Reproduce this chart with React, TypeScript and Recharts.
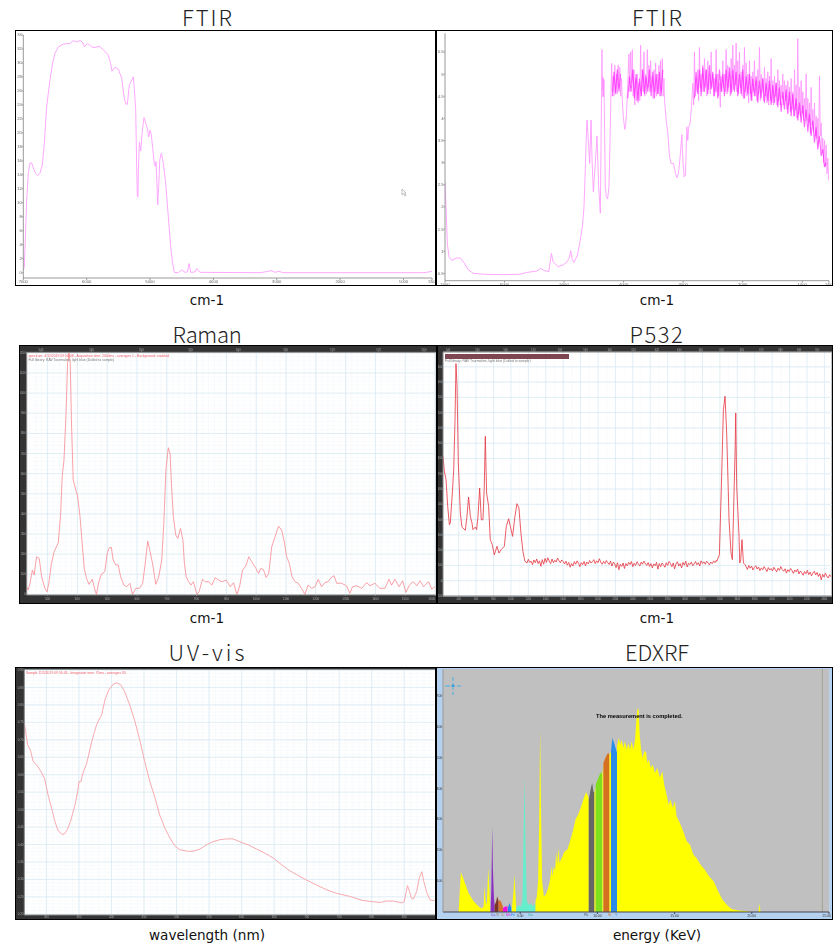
import { ComposedChart, LineChart, Line, Area, XAxis, YAxis, CartesianGrid, ReferenceLine } from 'recharts';
import type { ReactNode } from 'react';

type Pair = [number, number];

// top left FTIR, wavenumber / transmittance
const ftirA: Pair[] = [
  [7000, 0.3], [6984, 0.9], [6968, 4.7], [6947, 10.4], [6921, 14.2], [6895, 15.7], [6868, 15.7], [6842, 15], [6805, 14.2],
  [6774, 13.9], [6737, 14.2], [6700, 15.4], [6668, 18.5], [6632, 23.7], [6579, 27.6], [6537, 30], [6500, 31.4], [6447, 32.3],
  [6368, 32.7], [6263, 32.8], [6211, 33.2], [6158, 33], [6105, 33.2], [6068, 33], [6037, 32.3], [5984, 32.8], [5921, 32.3],
  [5868, 32.2], [5805, 32.4], [5737, 31.9], [5658, 31.1], [5621, 29.9], [5600, 28.8], [5553, 29.4], [5500, 29.1], [5447, 27.8],
  [5411, 25.2], [5379, 24.1], [5358, 24.1], [5326, 26.9], [5263, 28], [5247, 26.2], [5226, 23.3], [5211, 15.2], [5200, 10.9],
  [5189, 10.9], [5184, 14.7], [5168, 18.7], [5147, 17.4], [5121, 20.4], [5095, 22.2], [5068, 21.4], [5042, 20.6], [5021, 19.4],
  [5000, 20.4], [4979, 19.7], [4958, 17.8], [4932, 15.6], [4916, 15.2], [4905, 15.9], [4889, 12.3], [4879, 9.7], [4863, 12.3],
  [4847, 16.1], [4821, 17.1], [4789, 15.6], [4753, 12.8], [4711, 8], [4674, 3.7], [4642, 1.3], [4616, 0.05], [4553, 0],
  [4500, 0.4], [4447, 0.05], [4411, 0.1], [4384, 1.3], [4358, 0.05], [4289, 0.1], [4263, 0.6], [4211, 0.05], [3263, 0],
  [3158, 0.15], [3089, 0.3], [3026, 0.05], [2963, 0.2], [2905, 0], [684, 0], [605, 0.1], [550, 0.2],
];

// top right FTIR: smooth left part, then the two noisy stretches
const ftirBLow: Pair[] = [
  [7000, 2.57], [6983, 2], [6961, 1.18], [6933, 0.88], [6888, 0.79], [6804, 0.85], [6737, 0.84], [6676, 0.73], [6609, 0.58],
  [6525, 0.5], [6358, 0.48], [6022, 0.47], [5743, 0.48], [5631, 0.52], [5464, 0.55], [5397, 0.61], [5324, 0.56], [5257, 0.54],
  [5229, 0.8], [5212, 0.95], [5184, 0.76], [5100, 0.65], [5017, 0.69], [4950, 0.76], [4916, 0.84], [4888, 1.01], [4860, 0.8],
  [4832, 0.75], [4776, 0.91], [4737, 1.18], [4693, 1.55], [4665, 2], [4642, 2.91], [4625, 3.66], [4614, 3.96], [4586, 3.36],
  [4570, 2.98], [4547, 3.96], [4530, 3.06], [4508, 2.34], [4475, 2.98], [4447, 3.6], [4419, 2.46], [4391, 1.86], [4363, 5.55],
  [4358, 4.64], [4352, 4.94], [4347, 4.49], [4341, 4.9], [4336, 4.49], [4330, 4.87], [4319, 3.66], [4308, 2.46], [4291, 2.23],
  [4268, 2.18], [4246, 2.46], [4229, 3.44], [4212, 4.57], [4201, 5.24],
];
const ftirBNoise1 = [
  4.6, 4.95, 4.5, 5.2, 4.6, 5, 4.55, 5.2, 4.7, 5.15, 4.5, 4.9, 4.4, 4.1, 3.9, 3.75, 3.85, 4.1, 4.5, 5,
  5.45, 4.6, 5.5, 4.8, 5.55, 4.5, 5.1, 4.3, 4.9, 4.4, 5, 4.35, 4.8, 4.4, 5.65, 4.5, 5.1, 4.6, 5.5, 4.5,
  5, 4.55, 5.55, 4.7, 5.2, 4.6, 5.3, 4.7, 4.95, 4.45, 5.1, 4.6, 5.25, 4.5, 5, 4.55, 5.2, 4.5, 5.3, 4.6,
  5.35, 4.5, 4.9,
];
const ftirBValley: Pair[] = [
  [3313, 4.42], [3285, 3.96], [3257, 3.66], [3229, 3.14], [3201, 2.98], [3162, 2.98], [3128, 2.76], [3106, 2.66], [3078, 2.76],
  [3050, 3.14], [3022, 3.63], [3005, 3.06], [2983, 2.68], [2961, 2.72], [2938, 3.81], [2922, 3.5], [2905, 3.81], [2883, 3.89],
  [2860, 4.27], [2838, 4.79],
];
const ftirBNoise2 = [
  4.3, 5.5, 4.5, 4.9, 4.6, 5.1, 4.4, 5.6, 4.7, 5, 4.6, 5.2, 4.6, 5.35, 4.7, 5.1, 4.5, 5.3, 4.65, 5,
  4.55, 5.5, 4.7, 5, 4.5, 4.9, 4.6, 5.55, 4.6, 5, 4.5, 4.8, 4.25, 4.95, 4.6, 5.3, 4.7, 5, 4.6, 5.55,
  4.55, 5.2, 4.7, 5.05, 4.5, 5.35, 4.6, 5.65, 4.65, 5.2, 4.75, 5.7, 4.6, 5.3, 4.55, 5.5, 4.7, 5.05, 4.5, 5.2,
  4.45, 5.6, 4.6, 5.25, 4.5, 5, 4.35, 5.3, 4.55, 4.95, 4.4, 5.05, 4.6, 5.3, 4.5, 4.85, 4.4, 5.1, 4.55, 5.6,
  4.4, 5, 4.6, 4.9, 4.4, 5.15, 4.5, 4.9, 4.35, 5.05, 4.3, 4.95, 4.4, 5.35, 4.35, 4.85, 4.3, 4.95, 4.5, 4.8,
  4.3, 5.1, 4.4, 4.85, 4.3, 4.75, 4.45, 5, 4.3, 4.85, 4.4, 4.75, 4.2, 4.85, 4.3, 4.7, 4.15, 4.9, 4.2, 4.6,
  4.05, 5.1, 4.2, 4.75, 4, 5.8, 4.1, 4.7, 4.05, 4.85, 4.1, 4.6, 3.95, 4.45, 4.05, 5, 3.95, 4.45, 3.9, 4.35,
  3.65, 4.7, 3.85, 4.2, 3.7, 4.35, 3.6, 4.05, 3.55, 4, 3.45, 4.95, 3.6, 3.9, 3.25, 3.55, 3, 3.5, 2.9, 3.4,
  2.75, 3.1, 2.6,
];
// the saturated magenta band running through the noise
const ftirBCore1a = [4.5, 5.05, 4.55, 5.1, 4.6, 5];
const ftirBCore1b = [4.45, 4.95, 4.6, 5.1, 4.45, 5, 4.4, 4.9, 4.5, 5.1, 4.55, 4.95, 4.6, 5.1, 4.5, 5.05, 4.45, 5, 4.55, 5.05, 4.5, 5.1];
const ftirBCore2 = [
  4.45, 5.05, 4.55, 5.1, 4.5, 5.15, 4.6, 5.1, 4.55, 5.2, 4.65, 5.05, 4.5, 5, 4.45, 5.1, 4.6, 5, 4.5, 5.1,
  4.6, 5.15, 4.55, 5.1, 4.6, 5.05, 4.5, 5, 4.55, 5.1, 4.45, 4.95, 4.55, 5, 4.4, 4.9, 4.5, 4.95, 4.35, 4.85,
  4.45, 4.9, 4.35, 4.8, 4.4, 4.85, 4.3, 4.75, 4.35, 4.8, 4.25, 4.7, 4.15, 4.6, 4.2, 4.65, 4.1, 4.6, 4.05, 4.55,
  4.05, 4.45, 3.95, 4.35, 3.9, 4.3, 3.8, 4.2, 3.7, 4.1, 3.6, 3.95, 3.45, 3.8, 3.3, 3.6, 3.15, 3.3, 2.9, 3,
];
const ftirXTicks = [7000, 6000, 5000, 4000, 3000, 2000, 1000, 550];

// Raman, shift / counts
const raman: Pair[] = [
  [230, 38], [235, 22], [241, 55], [249, 121], [255, 96], [263, 187], [272, 179], [280, 88], [291, 30], [298, 13], [304, 55],
  [313, 154], [322, 212], [336, 257], [344, 402], [349, 585], [355, 667], [362, 899], [367, 1148], [372, 1200], [376, 1148],
  [380, 866], [386, 568], [392, 535], [401, 485], [409, 386], [417, 237], [423, 129], [431, 79], [439, 50], [450, 75], [459, 22],
  [464, 0], [472, 63], [481, 101], [492, 113], [500, 204], [507, 232], [514, 233], [520, 171], [529, 146], [537, 146], [545, 88],
  [556, 46], [565, 38], [576, 55], [585, 0], [596, 30], [608, 30], [619, 55], [627, 146], [636, 265], [644, 212], [653, 146],
  [663, 50], [673, 88], [683, 171], [690, 353], [697, 618], [705, 729], [711, 700], [716, 535], [722, 386], [730, 295], [737, 278],
  [746, 328], [754, 270], [759, 154], [765, 88], [773, 63], [781, 46], [789, 63], [801, 0], [808, 13], [820, 75], [829, 63],
  [840, 63], [851, 46], [862, 83], [873, 71], [885, 63], [899, 71], [913, 38], [924, 58], [935, 0], [944, 38], [954, 121],
  [965, 141], [975, 187], [985, 162], [999, 129], [1008, 104], [1015, 129], [1024, 124], [1033, 84], [1042, 104], [1052, 237],
  [1063, 286], [1075, 339], [1085, 320], [1094, 262], [1102, 187], [1111, 154], [1120, 88], [1130, 63], [1141, 55], [1152, 30],
  [1163, 0], [1174, 46], [1186, 30], [1197, 38], [1208, 75], [1219, 38], [1230, 58], [1241, 63], [1249, 80], [1261, 93],
  [1270, 55], [1286, 55], [1303, 43], [1314, 5], [1323, 38], [1337, 43], [1354, 30], [1370, 58], [1382, 43], [1398, 55],
  [1415, 30], [1432, 30], [1445, 75], [1454, 46], [1465, 75], [1479, 38], [1491, 68], [1502, 10], [1514, 46], [1527, 63],
  [1539, 43], [1550, 68], [1561, 38], [1578, 63], [1589, 26], [1599, 38],
];
const ramanTopTicks = [278, 448, 615, 780, 940, 1099, 1256, 1411, 1563];
const ramanTopLabels = ['540', '545', '550', '555', '560', '565', '570', '575', '580'];

// P532
const p532Head: Pair[] = [
  [220, 814], [236, 716], [255, 661], [274, 487], [293, 367], [304, 378], [327, 574], [343, 727], [358, 1054], [369, 1421],
  [381, 1273], [396, 771], [419, 443], [438, 351], [476, 330], [495, 421], [514, 548], [534, 421], [553, 378], [564, 334],
  [591, 351], [606, 334], [622, 421], [641, 607], [660, 399], [679, 399], [694, 618], [706, 945], [721, 574], [744, 487],
  [763, 269], [786, 236], [809, 170], [840, 225], [863, 181], [886, 203], [924, 225], [947, 356], [974, 406], [993, 356],
  [1019, 290], [1046, 421], [1069, 504], [1092, 476], [1115, 312], [1138, 192], [1161, 127],
];
const p532Noise1 = [
  116, 140, 120, 128, 105, 136, 118, 142, 112, 130, 95, 138, 108, 146, 120, 150, 128, 112, 142, 118,
  134, 122, 148, 130, 118, 136, 125, 110, 128, 102, 120, 88, 112, 96, 125, 108, 130, 115, 92, 118,
  105, 126, 98, 122, 110, 132, 116, 124, 138, 112, 130, 118, 144, 120, 108, 126, 112, 132, 118, 106,
  128, 96, 122, 110, 86, 118, 72, 108, 94, 116, 80, 112, 98, 120, 106, 126, 92, 114, 100, 124,
  110, 96, 122, 108, 128, 112, 100, 118, 94, 112, 84, 110, 98, 120, 76, 112, 92, 116, 104, 88,
  118, 100, 126, 112, 92, 116, 78, 110, 124, 96, 112, 84, 120, 102, 128, 90, 114, 106, 122, 98,
  110, 126, 104, 118, 96, 130, 112, 124, 108, 128, 116, 104, 122, 112, 130, 118, 134,
];
const p532Peaks: Pair[] = [
  [3364, 127], [3394, 170], [3417, 618], [3440, 1120], [3459, 1207], [3478, 967], [3505, 399], [3528, 181], [3543, 138],
  [3574, 836], [3582, 1098], [3593, 618], [3620, 290], [3628, 116], [3639, 138], [3654, 269], [3670, 116], [3689, 105],
];
const p532Noise2 = [
  92, 74, 100, 82, 96, 70, 88, 98, 76, 90, 66, 84, 72, 92, 78, 60, 86, 70, 80, 64,
  88, 72, 58, 82, 68, 92, 74, 62, 78, 50, 72, 60, 80, 66, 48, 70, 58, 76, 44, 64,
  52, 36, 60, 46, 68, 40, 56, 32, 50, 62, 38, 54, 28, 46, 6, 42, 24, 50, 30, 18,
  40, 26,
];
const p532TopTicks = [278, 615, 940, 1256, 1563, 1856, 2136, 2410, 2676, 2933, 3181, 3421, 3653, 3878, 4097, 4310, 4516];
const p532TopLabels = ['540', '550', '560', '570', '580', '590', '600', '610', '620', '630', '640', '650', '660', '670', '680', '690', '700'];

// UV-vis, wavelength / absorbance
const uvVis: Pair[] = [
  [266, 0.748], [268, 0.724], [271, 0.686], [276, 0.667], [279.5, 0.638], [285, 0.628], [291, 0.611], [297, 0.59], [302.5, 0.542],
  [308, 0.504], [313, 0.466], [318, 0.44], [323, 0.43], [327, 0.429], [332, 0.442], [337, 0.466], [344, 0.514], [348, 0.552],
  [350, 0.58], [353, 0.58], [356, 0.604], [362, 0.633], [369, 0.69], [377, 0.743], [385, 0.772], [390, 0.815], [396, 0.843],
  [403, 0.86], [408, 0.863], [414, 0.858], [420, 0.839], [428, 0.8], [436, 0.753], [444, 0.695], [451, 0.638], [459, 0.58],
  [467, 0.533], [474, 0.485], [482, 0.447], [490, 0.418], [497, 0.397], [505, 0.385], [513, 0.382], [520, 0.38], [528, 0.382],
  [536, 0.387], [546, 0.399], [556, 0.408], [567, 0.414], [577, 0.416], [587, 0.416], [597, 0.408], [610, 0.399], [623, 0.387],
  [636, 0.375], [649, 0.361], [662, 0.341], [674, 0.325], [687, 0.311], [700, 0.298], [715, 0.284], [731, 0.27], [746, 0.26],
  [767, 0.251], [785, 0.24], [797, 0.237], [813, 0.234], [823, 0.238], [833, 0.238], [846, 0.233], [850, 0.236], [853, 0.265],
  [855, 0.282], [858, 0.265], [861, 0.246], [864, 0.244], [869, 0.265], [873, 0.303], [877, 0.322], [880, 0.294], [885, 0.26],
  [890, 0.241], [895, 0.239], [897, 0.241],
];

// EDXRF segments, energy / counts
const xrfLow: Pair[] = [[1.01, 0], [1.16, 129], [1.34, 105], [1.66, 61], [1.98, 35], [2.31, 18], [2.52, 11], [2.63, 18], [2.69, 83], [2.76, 35], [2.84, 24], [2.93, 142], [3, 78], [3.06, 0]];
const xrfViolet: Pair[] = [[3.08, 0], [3.13, 78], [3.19, 277], [3.23, 142], [3.3, 45], [3.34, 24]];
const xrfBrown: Pair[] = [[3.34, 22], [3.45, 35], [3.51, 51], [3.6, 35]];
const xrfOrangeLow: Pair[] = [[3.6, 40], [3.75, 35], [3.88, 18]];
const xrfMagenta: Pair[] = [[3.88, 13], [4.03, 18], [4.18, 18]];
const xrfBlueLow: Pair[] = [[4.2, 13], [4.31, 29], [4.42, 13]];
const xrfSpike: Pair[] = [[4.46, 8], [4.57, 67], [4.63, 121], [4.7, 45], [4.74, 8]];
const xrfCyan: Pair[] = [[4.74, 13], [4.89, 22], [5.04, 18], [5.15, 40], [5.22, 250], [5.28, 439], [5.34, 229], [5.43, 35], [5.56, 22], [5.69, 29], [5.82, 18], [5.99, 29]];
const xrfRise: Pair[] = [
  [5.99, 35], [6.08, 51], [6.16, 99], [6.23, 293], [6.29, 590], [6.36, 293], [6.42, 99], [6.53, 51], [6.66, 56], [6.81, 78],
  [6.94, 105], [7.03, 148], [7.09, 115], [7.18, 148], [7.26, 132], [7.33, 196], [7.39, 153], [7.48, 207], [7.54, 159], [7.69, 175],
  [7.87, 196], [8.06, 202], [8.23, 229], [8.41, 261], [8.58, 299], [8.75, 315], [8.92, 337], [9.09, 364], [9.27, 388], [9.44, 369],
];
const xrfGray: Pair[] = [[9.44, 364], [9.57, 399], [9.66, 417], [9.74, 390], [9.81, 385]];
const xrfGap1: Pair[] = [[9.81, 385], [9.89, 407]];
const xrfGreen: Pair[] = [[9.89, 412], [10.06, 434], [10.22, 453], [10.32, 444]];
const xrfGap2: Pair[] = [[10.32, 444], [10.39, 480]];
const xrfOrange: Pair[] = [[10.39, 482], [10.54, 501], [10.69, 515], [10.78, 509]];
const xrfGap3: Pair[] = [[10.78, 509], [10.88, 520]];
const xrfBlue: Pair[] = [[10.88, 520], [10.97, 563], [11.08, 547], [11.16, 533], [11.27, 515]];
const xrfFall: Pair[] = [
  [11.27, 536], [11.38, 563], [11.49, 542], [11.57, 558], [11.68, 531], [11.79, 552], [11.9, 525], [12, 547], [12.11, 525],
  [12.22, 552], [12.33, 525], [12.44, 558], [12.52, 617], [12.59, 658], [12.67, 655], [12.74, 574], [12.82, 531], [12.91, 498],
  [13.04, 520], [13.15, 518], [13.23, 482], [13.34, 493], [13.45, 466], [13.58, 477], [13.73, 450], [13.88, 466], [14.05, 434],
  [14.2, 455], [14.33, 412], [14.48, 380], [14.61, 347], [14.74, 364], [14.87, 337], [15.02, 358], [15.13, 310], [15.34, 288],
  [15.56, 261], [15.78, 229], [15.99, 218], [16.21, 186], [16.42, 175], [16.68, 153], [16.96, 137], [17.24, 115], [17.54, 99],
  [17.82, 67], [18.1, 40], [18.41, 22], [18.69, 10], [19.12, 5], [19.55, 3], [19.98, 0],
];
const xrfTail: Pair[] = [[20.43, 0], [20.5, 28], [20.56, 0]];
const xrfElements = ['Ca', 'Ti', 'Cr', 'Mn', 'Fe', 'Ga', 'Pb', 'Sr', 'Y'];

const toRows = (pairs: Pair[]) => pairs.map(([x, y]) => ({ x, y }));
// spectrometer samples on a regular wavenumber grid in the noisy parts
const sampled = (start: number, step: number, values: number[]): Pair[] => values.map((y, i) => [start + i * step, y]);
const steps = (from: number, to: number, step: number) => {
  const out: number[] = [];
  for (let v = from; v <= to + 1e-9; v += step) out.push(v);
  return out;
};

const ftirBRows = toRows([...ftirBLow, ...sampled(4190, -14, ftirBNoise1), ...ftirBValley, ...sampled(2824, -14, ftirBNoise2)].sort((a, b) => b[0] - a[0]));
const ftirBCores = [
  toRows(sampled(4190, -28, ftirBCore1a)),
  toRows(sampled(3930, -28, ftirBCore1b)),
  toRows(sampled(2810, -28, ftirBCore2)),
];
const p532Rows = toRows([...p532Head, ...sampled(1184, 16, p532Noise1), ...p532Peaks, ...sampled(3700, 16, p532Noise2)]);

const xrfParts: { data: Pair[]; color: string }[] = [
  { data: xrfLow, color: '#ffff00' },
  { data: xrfViolet, color: '#8a2fc0' },
  { data: xrfBrown, color: '#7a3528' },
  { data: xrfOrangeLow, color: '#d9702a' },
  { data: xrfMagenta, color: '#f010e0' },
  { data: xrfBlueLow, color: '#2288ee' },
  { data: xrfSpike, color: '#ffff00' },
  { data: xrfCyan, color: '#66eecc' },
  { data: xrfRise, color: '#ffff00' },
  { data: xrfGray, color: '#666666' },
  { data: xrfGap1, color: '#ffff00' },
  { data: xrfGreen, color: '#7fdf1f' },
  { data: xrfGap2, color: '#ffff00' },
  { data: xrfOrange, color: '#d5701f' },
  { data: xrfGap3, color: '#ffff00' },
  { data: xrfBlue, color: '#2a8ce8' },
  { data: xrfFall, color: '#ffff00' },
  { data: xrfTail, color: '#ffff00' },
];

const FONT = '"Liberation Sans", sans-serif';
const major = '#d6e8f2';
const minor = '#f2f7fb';

// bottom tick that stays inside the frame at the right hand edge
const edgeTick = (w: number, style: any, format: (v: number) => string = String) => (p: any) => {
  const atEdge = p.x > w - 8;
  return (
    <text x={atEdge ? w - 2 : p.x} y={p.y + style.fontSize} textAnchor={atEdge ? 'end' : 'middle'} {...style}>
      {format(p.payload.value)}
    </text>
  );
};

function Title({ x, y, spacing, children }: { x: number; y: number; spacing: number; children: ReactNode }) {
  return (
    <div
      style={{
        position: 'absolute',
        left: x - 100,
        top: y - 16.5,
        width: 200,
        height: 30,
        lineHeight: '30px',
        textAlign: 'center',
        color: '#222',
        fontFamily: '"Noto Sans CJK KR", "Noto Sans", sans-serif',
        fontWeight: 300,
        fontSize: 22,
        letterSpacing: spacing,
      }}
    >
      {children}
    </div>
  );
}

function Caption({ x, y, children }: { x: number; y: number; children: ReactNode }) {
  return (
    <div
      style={{
        position: 'absolute',
        left: x - 100,
        top: y - 15,
        width: 200,
        height: 30,
        lineHeight: '30px',
        textAlign: 'center',
        color: '#111',
        fontFamily: '"DejaVu Sans", sans-serif',
        fontSize: 13.6,
      }}
    >
      {children}
    </div>
  );
}

function Frame({ x, y, w, h, bg, children }: { x: number; y: number; w: number; h: number; bg: string; children: ReactNode }) {
  return (
    <div style={{ position: 'absolute', left: x, top: y, width: w, height: h, background: bg, overflow: 'hidden' }}>
      <div style={{ position: 'absolute', inset: 0, filter: 'blur(0.3px)' }}>{children}</div>
      <div style={{ position: 'absolute', inset: 0, boxSizing: 'border-box', border: '1.5px solid #000', pointerEvents: 'none' }} />
    </div>
  );
}

function Tiny({ x, y, color, children, bold, size }: { x: number; y: number; color: string; children: ReactNode; bold?: boolean; size?: number }) {
  return (
    <div style={{ position: 'absolute', left: x, top: y, color, fontFamily: FONT, fontSize: size ?? 3.4, lineHeight: 1, whiteSpace: 'nowrap', fontWeight: bold ? 700 : 400 }}>
      {children}
    </div>
  );
}

function FtirChart({ w, h, rows, margin, yDomain, yTicks, stroke, strokeWidth, cores = [] }: any) {
  const tick = { fontSize: 4.2, fill: '#666', fontFamily: FONT };
  return (
    <LineChart width={w} height={h} data={rows} margin={margin}>
      <XAxis dataKey="x" type="number" reversed domain={[550, 7000]} ticks={ftirXTicks} interval={0} height={1} tick={tick} tickSize={2} tickMargin={0} stroke="#999" allowDataOverflow />
      <YAxis type="number" domain={yDomain} ticks={yTicks} interval={0} width={1} tick={tick} tickSize={1.5} tickMargin={0} stroke="#999" allowDataOverflow />
      <Line dataKey="y" type="linear" dot={false} stroke={stroke} strokeWidth={strokeWidth} isAnimationActive={false} />
      {cores.map((core: any, i: number) => (
        <Line key={i} data={core} dataKey="y" type="linear" dot={false} stroke="#ff00ff" strokeWidth={1.1} strokeOpacity={0.6} isAnimationActive={false} />
      ))}
    </LineChart>
  );
}

function RamanChart({ w, h, rows, margin, xDomain, xTicks, yDomain, yTicks, topTicks, topLabels, stroke, xMinor, yMinor, xMajor, tickSize }: any) {
  const tick = { fontSize: tickSize, fill: '#aaa', fontFamily: FONT };
  return (
    <LineChart width={w} height={h} data={rows} margin={margin}>
      <CartesianGrid fill="#fff" stroke={minor} strokeWidth={0.5} verticalValues={xMinor} horizontalValues={yMinor} />
      <CartesianGrid stroke={major} strokeWidth={0.7} verticalValues={xMajor} horizontalValues={yTicks} />
      <XAxis dataKey="x" type="number" domain={xDomain} ticks={xTicks} interval={0} height={1} tick={edgeTick(w, tick)} tickSize={1} tickMargin={0.5} stroke="#888" allowDataOverflow />
      <XAxis xAxisId="top" dataKey="x" orientation="top" type="number" domain={xDomain} ticks={topTicks} interval={0} height={1} tick={tick} tickSize={1} tickMargin={0.5} stroke="#888" tickFormatter={(_: number, i: number) => topLabels[i]} allowDataOverflow />
      <YAxis type="number" domain={yDomain} ticks={yTicks} interval={0} width={1} tick={tick} tickSize={0.5} tickMargin={0.3} stroke="#888" allowDataOverflow />
      <Line dataKey="y" type="linear" dot={false} stroke={stroke} strokeWidth={0.8} isAnimationActive={false} />
      <Line xAxisId="top" dataKey="y" type="linear" dot={false} stroke="none" isAnimationActive={false} />
    </LineChart>
  );
}

function UvChart() {
  const tick = { fontSize: 3, fill: '#a8a8a8', fontFamily: FONT };
  const yTicks = [0.2, 0.25, 0.3, 0.35, 0.4, 0.45, 0.5, 0.55, 0.6, 0.65, 0.7, 0.75, 0.8, 0.85, 0.9];
  const xTicks = steps(300, 850, 50);
  return (
    <LineChart width={421} height={253} data={toRows(uvVis)} margin={{ left: 8.3, top: 3, right: 0.5, bottom: 4 }}>
      <CartesianGrid fill="#fff" stroke={minor} strokeWidth={0.5} verticalValues={steps(270, 890, 10)} horizontalValues={steps(0.21, 0.9, 0.01)} />
      <CartesianGrid stroke={major} strokeWidth={0.7} verticalValues={xTicks} horizontalValues={yTicks} />
      <XAxis dataKey="x" type="number" domain={[266, 898]} ticks={xTicks} interval={0} height={1} tick={tick} tickSize={0.5} tickMargin={0.3} stroke="#888" allowDataOverflow />
      <YAxis type="number" domain={[0.198, 0.9]} ticks={yTicks} interval={0} width={1} tickFormatter={(v: number) => v.toFixed(2)} tick={tick} tickSize={0.5} tickMargin={0.3} stroke="#888" allowDataOverflow />
      <Line dataKey="y" type="linear" dot={false} stroke="#f7a0a6" strokeWidth={0.9} isAnimationActive={false} />
    </LineChart>
  );
}

function XrfChart() {
  const tick = { fontSize: 3.4, fill: '#333', fontFamily: FONT };
  return (
    <ComposedChart width={397} height={253} margin={{ left: 6, top: 2, right: 4, bottom: 7 }}>
      <CartesianGrid fill="#c0c0c0" stroke="none" />
      <XAxis dataKey="x" type="number" domain={[0, 25]} ticks={[5, 10, 15, 20, 25]} interval={0} height={1} tick={edgeTick(397, tick, (v) => v.toFixed(2))} tickSize={2} tickMargin={0} stroke="#445" allowDataOverflow />
      <YAxis type="number" domain={[0, 786]} ticks={[100, 200, 300, 400, 500, 600, 700]} interval={0} width={1} tick={tick} tickSize={0.5} tickMargin={0.3} stroke="#999" allowDataOverflow />
      {xrfParts.map((p, i) => (
        <Area key={i} data={toRows(p.data)} dataKey="y" type="linear" stroke="none" fill={p.color} fillOpacity={1} dot={false} activeDot={false} isAnimationActive={false} />
      ))}
      <ReferenceLine x={24.57} stroke="#9a9a88" strokeWidth={0.8} />
    </ComposedChart>
  );
}

export default function App() {
  return (
    <div style={{ position: 'absolute', left: 0, top: 0, width: 837, height: 948, background: '#fff', overflow: 'hidden' }}>
      <Title x={208} y={17} spacing={2}>FTIR</Title>
      <Title x={658} y={17} spacing={2}>FTIR</Title>
      <Title x={207} y={334} spacing={-0.3}>Raman</Title>
      <Title x={657} y={334} spacing={1.5}>P532</Title>
      <Title x={208} y={652} spacing={3}>UV-vis</Title>
      <Title x={657} y={652} spacing={0}>EDXRF</Title>
      <Caption x={207} y={300}>cm-1</Caption>
      <Caption x={657} y={300}>cm-1</Caption>
      <Caption x={207} y={618}>cm-1</Caption>
      <Caption x={657} y={618}>cm-1</Caption>
      <Caption x={207} y={935}>wavelength (nm)</Caption>
      <Caption x={657} y={935}>energy (KeV)</Caption>

      <Frame x={15} y={30} w={421} h={256} bg="#fff">
        <FtirChart
          w={421}
          h={256}
          rows={toRows(ftirA)}
          margin={{ left: 7.3, top: 5, right: 4, bottom: 7 }}
          yDomain={[-0.76, 34]}
          yTicks={steps(0, 34, 2)}
          stroke="#ffa8ff"
          strokeWidth={1}
        />
        <svg style={{ position: 'absolute', left: 386, top: 158 }} width={6} height={9}>
          <path d="M1 1 L1 7 L2.5 5.5 L4 8 L5 7.5 L3.6 5 L5 5 Z" fill="#fff" stroke="#999" strokeWidth={0.6} />
        </svg>
      </Frame>

      <Frame x={436} y={30} w={397} h={256} bg="#fff">
        <FtirChart
          w={397}
          h={256}
          rows={ftirBRows}
          margin={{ left: 8, top: 3.3, right: 4, bottom: 4.3 }}
          yDomain={[0.334, 5.92]}
          yTicks={[0.5, 1, 1.5, 2, 2.5, 3, 3.5, 4, 4.5, 5, 5.5]}
          stroke="#ff90ff"
          strokeWidth={0.8}
          cores={ftirBCores}
        />
      </Frame>

      <Frame x={19} y={345} w={418} h={259} bg="#333">
        <RamanChart
          w={418}
          h={259}
          rows={toRows(raman)}
          margin={{ left: 6.7, top: 6.3, right: 1.3, bottom: 8 }}
          xDomain={[230, 1602]}
          xTicks={steps(300, 1600, 100)}
          xMajor={steps(300, 1600, 100)}
          xMinor={steps(240, 1600, 20)}
          yDomain={[-3, 1203]}
          yTicks={steps(0, 1200, 100)}
          yMinor={steps(20, 1200, 20)}
          topTicks={ramanTopTicks}
          topLabels={ramanTopLabels}
          stroke="#f98a92"
          tickSize={3}
        />
        <Tiny x={9.5} y={9.5} color="#f2606c">spectrum: 4/12/2019 09:56:08 - Acquisition time: 2000ms - averages 1 - Background: enabled</Tiny>
        <Tiny x={9.5} y={14} color="#777">Full library: RAV Tourmaline, light blue (Dulled to sample)</Tiny>
      </Frame>

      <Frame x={437} y={345} w={396} h={259} bg="#333">
        <RamanChart
          w={396}
          h={259}
          rows={p532Rows}
          margin={{ left: 5, top: 6, right: 1.3, bottom: 7 }}
          xDomain={[220, 4684]}
          xTicks={steps(400, 4600, 200)}
          xMajor={steps(400, 4600, 200)}
          xMinor={steps(300, 4600, 200)}
          yDomain={[-100, 1497]}
          yTicks={steps(-100, 1400, 100)}
          yMinor={[]}
          topTicks={p532TopTicks}
          topLabels={p532TopLabels}
          stroke="#e5343f"
          tickSize={2.6}
        />
        <div style={{ position: 'absolute', left: 8, top: 9, width: 124, height: 5, background: '#7d4650' }} />
        <Tiny x={8} y={14.5} color="#777">Full library: RAV Tourmaline, light blue (Dulled to sample)</Tiny>
      </Frame>

      <Frame x={15} y={667} w={421} h={253} bg="#333">
        <UvChart />
        <Tiny x={11} y={5} color="#f2606c">Sample 11/5/2019 09:56:43 - Integration time: 70ms - averages 30</Tiny>
      </Frame>

      <Frame x={436} y={667} w={397} h={253} bg="#b4d1f0">
        <XrfChart />
        <Tiny x={160} y={47} color="#000" bold size={5.7}>The measurement is completed.</Tiny>
        <svg style={{ position: 'absolute', left: 8, top: 8 }} width={20} height={22}>
          <path d="M1 11 H6 M7.5 11 H11 M13 11 H17 M9 2 V6 M9 8 V10 M9 13 V15 M9 17 V20" stroke="#48aee0" strokeWidth={1} fill="none" />
          <circle cx={9} cy={11} r={1.4} fill="#3a9fd8" />
        </svg>
        <Tiny x={55} y={247} color="#8a2fc0">{xrfElements[0]}</Tiny>
        <Tiny x={60} y={247} color="#a0522d">{xrfElements[1]}</Tiny>
        <Tiny x={65} y={247} color="#d9702a">{xrfElements[2]}</Tiny>
        <Tiny x={70} y={247} color="#f010e0">{xrfElements[3]}</Tiny>
        <Tiny x={75} y={247} color="#2288ee">{xrfElements[4]}</Tiny>
        <Tiny x={92} y={247} color="#3aa">{xrfElements[5]}</Tiny>
        <Tiny x={148} y={247} color="#555">{xrfElements[6]}</Tiny>
        <Tiny x={172} y={247} color="#d5701f">{xrfElements[7]}</Tiny>
        <Tiny x={179} y={247} color="#2a8ce8">{xrfElements[8]}</Tiny>
      </Frame>
    </div>
  );
}
